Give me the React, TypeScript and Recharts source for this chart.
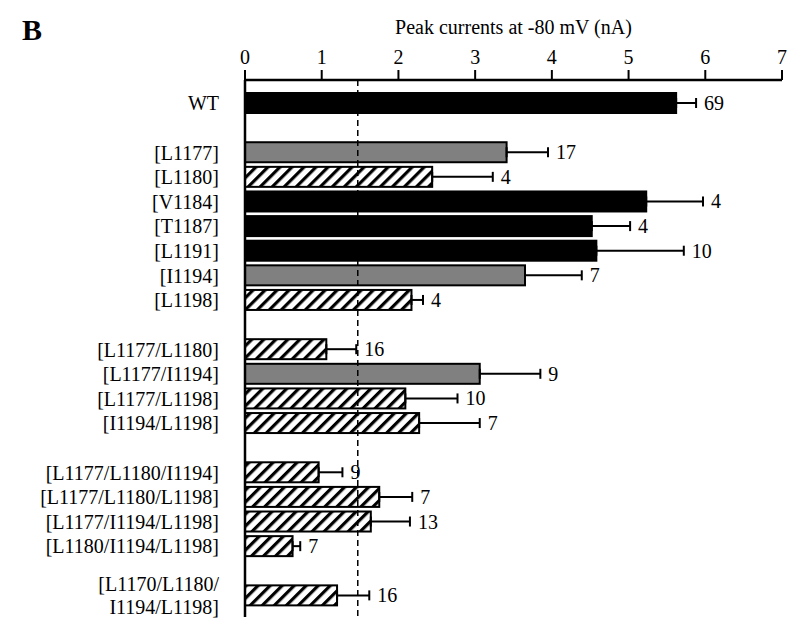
import React from "react";
import { BarChart, Bar, XAxis, YAxis, ErrorBar, ReferenceLine } from "recharts";

const categories: string[] = [
  "WT",
  "",
  "[L1177]",
  "[L1180]",
  "[V1184]",
  "[T1187]",
  "[L1191]",
  "[I1194]",
  "[L1198]",
  "",
  "[L1177/L1180]",
  "[L1177/I1194]",
  "[L1177/L1198]",
  "[I1194/L1198]",
  "",
  "[L1177/L1180/I1194]",
  "[L1177/L1180/L1198]",
  "[L1177/I1194/L1198]",
  "[L1180/I1194/L1198]",
  "",
  "[L1170/L1180/\nI1194/L1198]",
];

const means: (number | null)[] = [
  5.62, null, 3.41, 2.44, 5.23, 4.52, 4.58, 3.65, 2.17, null,
  1.06, 3.06, 2.09, 2.27, null, 0.96, 1.75, 1.64, 0.62, null, 1.2,
];

const upperErrors: (number | null)[] = [
  5.88, null, 3.95, 3.23, 5.97, 5.02, 5.72, 4.39, 2.32, null,
  1.45, 3.85, 2.77, 3.06, null, 1.27, 2.18, 2.15, 0.72, null, 1.62,
];

const counts: (number | null)[] = [
  69, null, 17, 4, 4, 4, 10, 7, 4, null,
  16, 9, 10, 7, null, 9, 7, 13, 7, null, 16,
];

const kinds: string[] = [
  "black", "", "grey", "hatch", "black", "black", "black", "grey", "hatch", "",
  "hatch", "grey", "hatch", "hatch", "", "hatch", "hatch", "hatch", "hatch", "", "hatch",
];

const xTicks = [0, 1, 2, 3, 4, 5, 6, 7];
const thresholdValue = 1.47;
const axisTitle = "Peak currents at -80 mV (nA)";
const panelLetter = "B";

const FONT = "'Liberation Serif', 'Times New Roman', serif";
const kindFill: Record<string, string> = {
  black: "#000000",
  grey: "#808080",
  hatch: "url(#hatchPattern)",
};

const data = categories.map((label, i) => ({
  id: i,
  label,
  mean: means[i],
  err:
    means[i] == null || upperErrors[i] == null
      ? null
      : [0, (upperErrors[i] as number) - (means[i] as number)],
  upper: upperErrors[i],
  n: counts[i],
  kind: kinds[i],
}));

const BarShape = (props: any) => {
  const { x, y, width, height, payload } = props;
  if (!payload || payload.mean == null) return <g />;
  const errPx = x + (width * payload.upper) / payload.mean;
  return (
    <g>
      <rect
        x={x}
        y={y}
        width={width}
        height={height}
        fill={kindFill[payload.kind]}
        stroke="#000"
        strokeWidth={2}
      />
      <text
        x={errPx + 8}
        y={y + height / 2}
        dy={7}
        fontFamily={FONT}
        fontSize={20}
        fill="#000"
      >
        {payload.n}
      </text>
    </g>
  );
};

const CategoryTick = (props: any) => {
  const { x, y, payload } = props;
  const label = categories[Number(payload.value)] ?? "";
  if (!label) return <g />;
  const lines = label.split("\n");
  const lh = 23;
  const start = -((lines.length - 1) * lh) / 2 + 7;
  return (
    <text x={x} y={y} textAnchor="end" fontFamily={FONT} fontSize={20} fill="#000">
      {lines.map((l, k) => (
        <tspan key={k} x={x} dy={k === 0 ? start : lh}>
          {l}
        </tspan>
      ))}
    </text>
  );
};

export default function App() {
  return (
    <div
      style={{
        position: "absolute",
        left: 0,
        top: 0,
        width: 800,
        height: 642,
        background: "#fff",
      }}
    >
      <svg width={0} height={0} style={{ position: "absolute" }}>
        <defs>
          <pattern
            id="hatchPattern"
            patternUnits="userSpaceOnUse"
            width={8.5}
            height={8.5}
            patternTransform="rotate(45)"
          >
            <rect x={0} y={0} width={8.5} height={8.5} fill="#fff" />
            <rect x={0} y={0} width={3.2} height={8.5} fill="#000" />
          </pattern>
        </defs>
      </svg>
      <div
        style={{
          position: "absolute",
          left: 22,
          top: 15,
          fontFamily: FONT,
          fontWeight: "bold",
          fontSize: 30,
          lineHeight: "30px",
          color: "#000",
        }}
      >
        {panelLetter}
      </div>
      <BarChart
        width={800}
        height={642}
        data={data}
        layout="vertical"
        margin={{ top: 10, right: 18, bottom: 25, left: 0 }}
      >
        <XAxis
          type="number"
          orientation="top"
          domain={[0, 7]}
          ticks={xTicks}
          height={70}
          tickSize={10}
          tickMargin={6}
          axisLine={{ stroke: "#000", strokeWidth: 2.5 }}
          tickLine={{ stroke: "#000", strokeWidth: 2 }}
          tick={{ fill: "#000", fontSize: 20, fontFamily: FONT }}
          allowDataOverflow
          label={{
            value: axisTitle,
            position: "insideTop",
            offset: 10,
            fill: "#000",
            fontSize: 20,
            fontFamily: FONT,
          }}
        />
        <YAxis
          type="category"
          dataKey="id"
          width={245}
          interval={0}
          tickSize={0}
          tickMargin={26}
          tickLine={false}
          axisLine={{ stroke: "#000", strokeWidth: 2.5 }}
          tick={<CategoryTick />}
          padding={{ top: 11, bottom: 9 }}
        />
        <Bar
          dataKey="mean"
          barSize={20}
          isAnimationActive={false}
          shape={<BarShape />}
        >
          <ErrorBar
            dataKey="err"
            direction="x"
            width={5}
            stroke="#000"
            strokeWidth={2}
            isAnimationActive={false}
          />
        </Bar>
        <ReferenceLine
          x={thresholdValue}
          stroke="#000"
          strokeWidth={1.5}
          strokeDasharray="6 4"
        />
      </BarChart>
    </div>
  );
}
